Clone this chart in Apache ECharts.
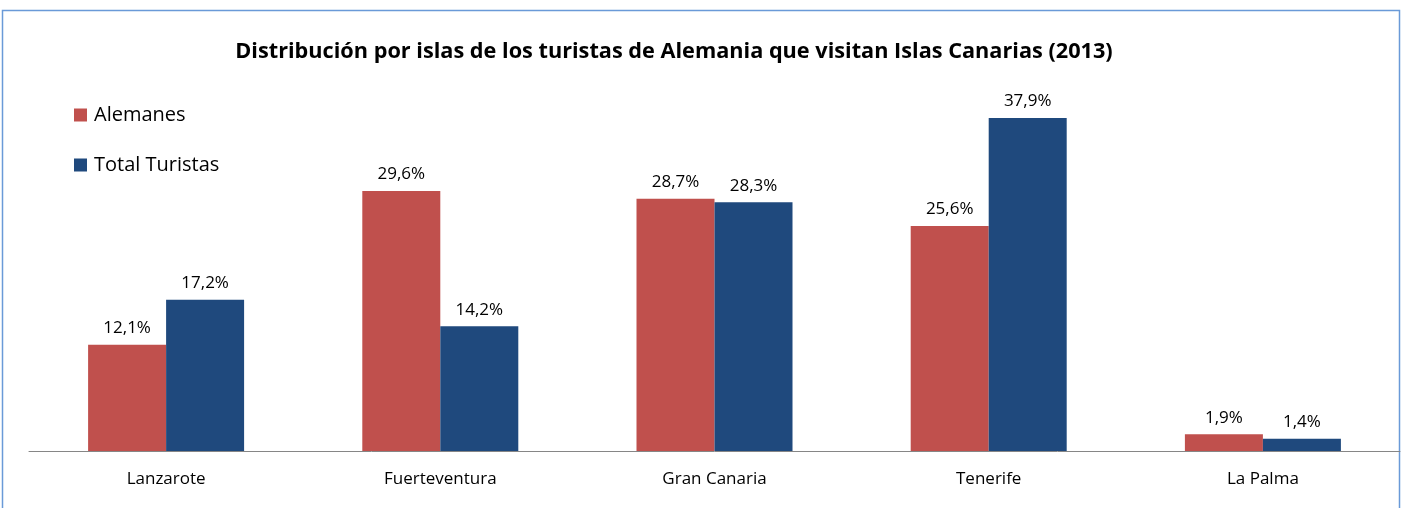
<!DOCTYPE html>
<html>
<head>
<meta charset="utf-8">
<script src="https://cdn.jsdelivr.net/npm/echarts@6/dist/echarts.min.js"></script>
<style>
    body { margin: 0; background: #fff; }
    #main { width: 1402px; height: 508px; }
</style>
</head>
<body>
<div id="main"></div>
<script>
var islas = ['Lanzarote', 'Fuerteventura', 'Gran Canaria', 'Tenerife', 'La Palma'];
var alemanes = [12.1, 29.6, 28.7, 25.6, 1.9];
var totalTuristas = [17.2, 14.2, 28.3, 37.9, 1.4];

var myChart = echarts.init(document.getElementById('main'));

function etiqueta(p) {  // 12.1 -> "12,1%"
    return p.value.toFixed(1).replace('.', ',') + '%';
}

var options = {
    backgroundColor: '#fff',
    animation: false,
    textStyle: { fontFamily: 'Open Sans' },
    title: {
        text: 'Distribución por islas de los turistas de Alemania que visitan Islas Canarias (2013)',
        left: 669,
        textAlign: 'center',
        top: 36,
        textStyle: { fontSize: 21.7, fontWeight: 'bold', color: '#000', fontFamily: 'Open Sans' }
    },
    legend: {
        orient: 'vertical',
        left: 74,
        top: 105,
        padding: 0,
        itemWidth: 13,
        itemHeight: 13,
        itemGap: 30,
        icon: 'rect',
        textStyle: { fontSize: 20, color: '#000', padding: [0, 0, 0, 2] },
        data: ['Alemanes', 'Total Turistas']
    },
    grid: {
        left: 29,
        right: 2,
        top: 99.5,
        bottom: 57
    },
    xAxis: {
        type: 'category',
        data: islas,
        axisTick: { show: false },
        axisLine: { lineStyle: { color: '#868686', width: 1 } },
        axisLabel: { fontSize: 17, color: '#000', margin: 20 }
    },
    yAxis: {
        type: 'value',
        min: 0,
        max: 40,
        show: false,
        splitLine: { show: false }
    },
    series: [
        {
            name: 'Alemanes',
            type: 'bar',
            data: alemanes,
            barWidth: 78,
            barGap: '0%',
            itemStyle: { color: '#C0504D' },
            label: { show: true, position: 'top', distance: 8, fontSize: 17, color: '#000', formatter: etiqueta }
        },
        {
            name: 'Total Turistas',
            type: 'bar',
            data: totalTuristas,
            barWidth: 78,
            barGap: '0%',
            itemStyle: { color: '#1F497D' },
            label: { show: true, position: 'top', distance: 8, fontSize: 17, color: '#000', formatter: etiqueta }
        }
    ],
    graphic: [
        {
            type: 'rect',
            silent: true,
            shape: { x: 2.5, y: 10.5, width: 1397, height: 520 },
            style: { fill: 'none', stroke: '#6A9AD8', lineWidth: 1.5 }
        }
    ]
};
myChart.setOption(options);
</script>
</body>
</html>
